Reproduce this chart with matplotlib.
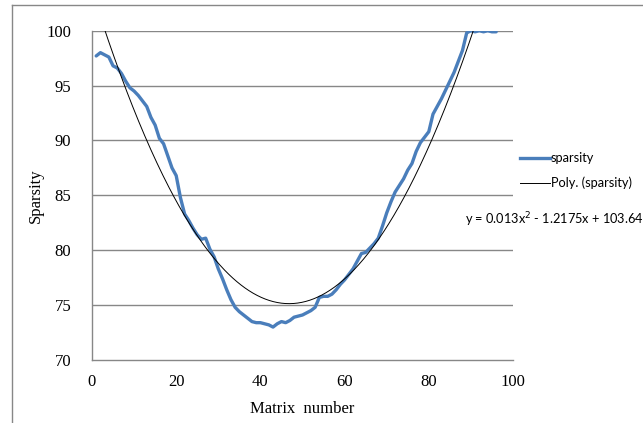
import numpy as np
import matplotlib
matplotlib.use("Agg")
import matplotlib.pyplot as plt
from matplotlib.lines import Line2D

matrix_number = list(range(1, 97))
sparsity = [97.7, 98.0, 97.8, 97.6, 96.8, 96.6, 96.1, 95.4, 94.8, 94.5,
            94.1, 93.6, 93.1, 92.1, 91.4, 90.2, 89.7, 88.6, 87.5, 86.8,
            84.8, 83.3, 82.7, 82.0, 81.4, 81.0, 81.1, 80.1, 79.4, 78.3,
            77.4, 76.4, 75.5, 74.8, 74.4, 74.1, 73.8, 73.5, 73.4, 73.4,
            73.3, 73.2, 73.0, 73.3, 73.5, 73.4, 73.6, 73.9, 74.0, 74.1,
            74.3, 74.5, 74.8, 75.7, 75.8, 75.8, 76.0, 76.4, 76.9, 77.3,
            77.8, 78.3, 79.0, 79.7, 79.8, 80.2, 80.6, 81.1, 82.2, 83.4,
            84.4, 85.3, 85.9, 86.5, 87.3, 87.9, 89.0, 89.8, 90.3, 90.8,
            92.4, 93.1, 93.8, 94.6, 95.4, 96.2, 97.2, 98.2, 99.8, 100.0,
            99.9, 100.0, 99.9, 100.0, 99.9, 99.9]
poly_coef = [0.013, -1.2175, 103.64]
x_ticks = [0, 20, 40, 60, 80, 100]
y_ticks = [70, 75, 80, 85, 90, 95, 100]

fig = plt.figure(figsize=(6.43, 4.23), dpi=100)
ax = fig.add_axes([92/643, 1-360/423, (513-92)/643, (360-30.7)/423])

grey = "#878787"
for yv in y_ticks[1:]:
    ax.axhline(yv, color=grey, lw=1.0, zorder=0)

ax.plot(matrix_number, sparsity, color="#4A7EBB", lw=2.4, solid_capstyle="round",
        solid_joinstyle="round", zorder=3)
xs = np.linspace(0, 96, 400)
ax.plot(xs, np.polyval(poly_coef, xs), color="black", lw=0.7, zorder=4)

ax.set_xlim(0, 100)
ax.set_ylim(70, 100)
ax.set_xticks(x_ticks)
ax.set_yticks(y_ticks)
ax.tick_params(length=0, labelsize=12, pad=0)
for lab in ax.get_xticklabels() + ax.get_yticklabels():
    lab.set_fontfamily("Liberation Serif")
ax.tick_params(axis="y", pad=15)
ax.tick_params(axis="x", pad=10)
for s in ["top", "right"]:
    ax.spines[s].set_visible(False)
for s in ["left", "bottom"]:
    ax.spines[s].set_color(grey)
    ax.spines[s].set_linewidth(1.0)

ax.set_xlabel("Matrix  number", fontfamily="Liberation Serif", fontsize=12, labelpad=8)
ax.set_ylabel("Sparsity", fontfamily="Liberation Serif", fontsize=12, labelpad=2)

# legend
fs = 9.2
fig.add_artist(Line2D([520/643, 550/643], [1-158/423, 1-158/423], color="#4A7EBB", lw=2.4))
fig.add_artist(Line2D([520/643, 550/643], [1-183/423, 1-183/423], color="black", lw=0.7))
fig.text(551/643, 1-158/423, "sparsity", fontfamily="Lato", fontsize=fs, va="center", ha="left")
fig.text(551/643, 1-183/423, "Poly. (sparsity)", fontfamily="Lato", fontsize=fs, va="center", ha="left")
fig.text(465/643, 1-220/423, "y = 0.013x$^2$ - 1.2175x + 103.64", fontfamily="Lato",
         fontsize=fs, va="center", ha="left")

# outer frame
fig.add_artist(Line2D([12/643, 12/643], [0, 1-5/423], color=grey, lw=1.0))
fig.add_artist(Line2D([12/643, 1], [1-5/423, 1-5/423], color=grey, lw=1.0))

fig.savefig("out.png", dpi=100)
